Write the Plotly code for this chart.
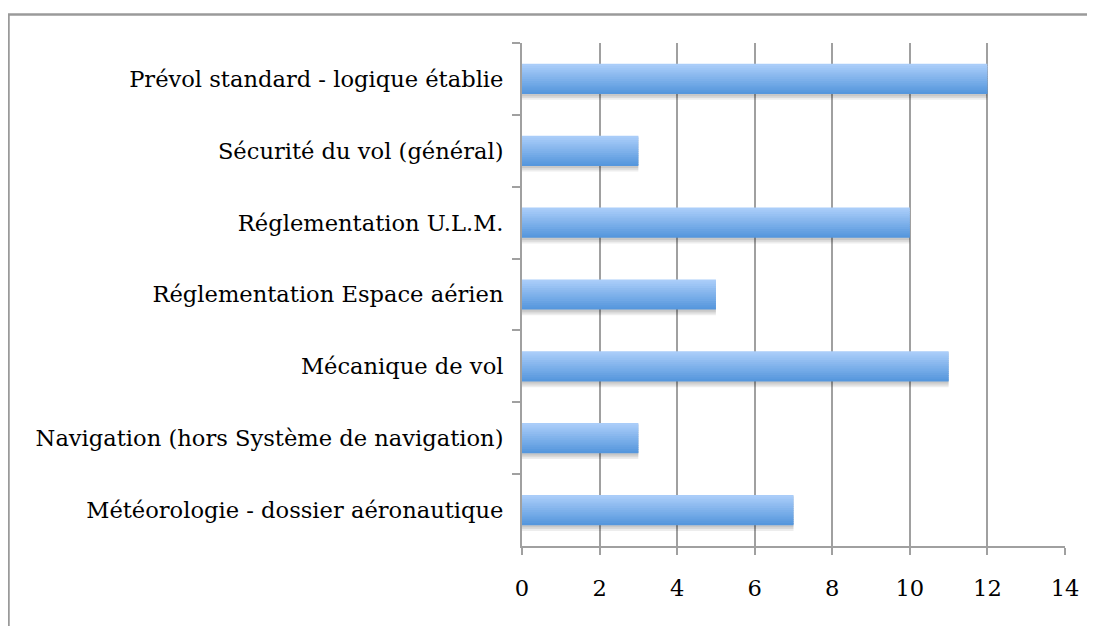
import plotly.graph_objects as go

categories = [
    "Prévol standard - logique établie",
    "Sécurité du vol (général)",
    "Réglementation U.L.M.",
    "Réglementation Espace aérien",
    "Mécanique de vol",
    "Navigation (hors Système de navigation)",
    "Météorologie - dossier aéronautique",
]
values = [12, 3, 10, 5, 11, 3, 7]
x_ticks = [0, 2, 4, 6, 8, 10, 12, 14]

# page body has an 8px margin; compensate so the picture lines up
PAD = 8
W, H = 1095 - PAD, 626 - PAD
L, R, T, B = 522 - PAD, 30, 43 - PAD, 80
pw, ph = W - L - R, H - T - B

fig = go.Figure()

bar_w = 0.42
# soft shadow layers below each bar
shadow = [(0.07, "rgba(0,0,0,0.07)"), (0.045, "rgba(0,0,0,0.08)"), (0.02, "rgba(0,0,0,0.08)")]
for extra, col in shadow:
    fig.add_trace(go.Bar(
        y=categories, x=values, orientation="h",
        width=bar_w + extra, offset=-bar_w / 2 + 0.01,
        marker=dict(color=col, line=dict(width=0)),
        hoverinfo="skip", showlegend=False,
    ))

# vertical gradient (light top -> darker bottom)
top = (170, 205, 249)
bot = (86, 151, 221)
N = 14
sw = bar_w / N
for k in range(N):
    t = k / (N - 1)
    c = tuple(round(top[j] + (bot[j] - top[j]) * t) for j in range(3))
    fig.add_trace(go.Bar(
        y=categories, x=values, orientation="h",
        width=sw * (1.6 if k < N - 1 else 1.0), offset=-bar_w / 2 + k * sw,
        marker=dict(color="rgb(%d,%d,%d)" % c, line=dict(width=0)),
        hovertemplate="%{y}: %{x}<extra></extra>", showlegend=False,
    ))

font = dict(family="DejaVu Serif, serif", size=22.6, color="#000000")
axcol = "#a0a0a0"

fig.update_layout(
    width=W, height=H,
    margin=dict(l=L, r=R, t=T, b=B),
    barmode="overlay",
    plot_bgcolor="white", paper_bgcolor="white",
    font=font,
    xaxis=dict(
        range=[0, 14], tickvals=x_ticks, ticktext=[str(v) for v in x_ticks],
        showgrid=True, gridcolor=axcol, gridwidth=2,
        showline=True, linecolor=axcol, linewidth=2,
        ticks="outside", ticklen=7, tickwidth=2, tickcolor=axcol,
        zeroline=False, ticklabelstandoff=14,
    ),
    yaxis=dict(
        type="category", categoryorder="array", categoryarray=categories,
        range=[6.5, -0.5],
        showgrid=False, showline=True, linecolor=axcol, linewidth=2,
        ticks="outside", ticklen=8, tickwidth=2, tickcolor=axcol,
        tickson="boundaries", ticklabelstandoff=12,
    ),
    shapes=[dict(
        type="rect", xref="paper", yref="paper",
        x0=(8.5 - PAD - L) / pw, x1=(1110 - L) / pw,
        y0=-(H + 10 - (T + ph)) / ph, y1=(T + ph - (14.5 - PAD)) / ph,
        line=dict(color="#9a9a9a", width=2.5), fillcolor="rgba(0,0,0,0)",
        layer="below",
    )],
)

fig.write_html("out.html")
